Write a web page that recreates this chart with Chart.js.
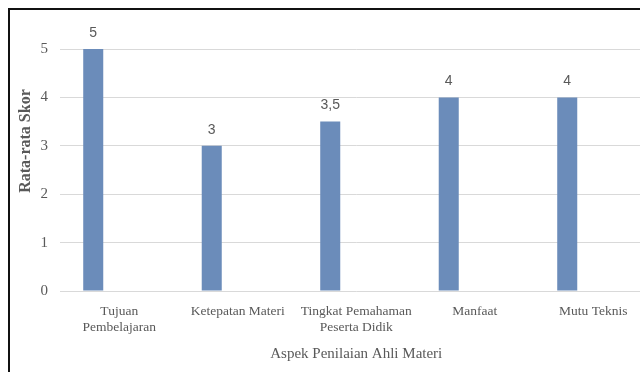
<!DOCTYPE html>
<html>
<head>
<meta charset="utf-8">
<script src="https://cdn.jsdelivr.net/npm/chart.js@4/dist/chart.umd.min.js"></script>
<style>
  html, body { margin: 0; padding: 0; background: #fff; overflow: hidden; }
  #wrap { position: absolute; left: 0; top: 0; width: 680px; height: 380px; }
  #frame { position: absolute; left: 8px; top: 8px; width: 700px; height: 400px; border: 2px solid #111; pointer-events: none; }
</style>
</head>
<body>
<div id="wrap"><canvas id="bar-chart"></canvas></div>
<div id="frame"></div>
<script>
// aspek penilaian (kategori) dan skor rata-rata
var aspek = [
  ['Tujuan', 'Pembelajaran'],
  'Ketepatan Materi',
  ['Tingkat Pemahaman', 'Peserta Didik'],
  'Manfaat',
  'Mutu Teknis'
];
var skor = [5, 3, 3.5, 4, 4];
var seriKosong = [null, null, null, null, null];
var yTicks = [0, 1, 2, 3, 4, 5];

var judulX = 'Aspek Penilaian Ahli Materi';
var judulY = 'Rata-rata Skor';

var abu = '#595959';
var serif = '"Liberation Serif", "Times New Roman", serif';

// tulis nilai di atas batang
var labelNilai = {
  id: 'labelNilai',
  afterDatasetsDraw: function(chart) {
    var ctx = chart.ctx;
    var meta = chart.getDatasetMeta(0);
    ctx.save();
    ctx.fillStyle = abu;
    ctx.font = '14px "Liberation Sans", Arial, sans-serif';
    ctx.textAlign = 'center';
    ctx.textBaseline = 'middle';
    meta.data.forEach(function(bar, i) {
      ctx.fillText(String(skor[i]).replace('.', ','), bar.x, bar.y - 16);
    });
    ctx.restore();
  }
};

// judul sumbu
var judulSumbu = {
  id: 'judulSumbu',
  afterDraw: function(chart) {
    var ctx = chart.ctx;
    var area = chart.chartArea;
    ctx.save();
    ctx.fillStyle = abu;
    ctx.textAlign = 'center';
    ctx.textBaseline = 'middle';
    ctx.font = '15px ' + serif;
    ctx.fillText(judulX, (area.left + area.right) / 2, 354);
    ctx.translate(26, 141);
    ctx.rotate(-Math.PI / 2);
    ctx.font = 'bold 16px ' + serif;
    ctx.fillText(judulY, 0, 0);
    ctx.restore();
  }
};

new Chart(document.getElementById('bar-chart'), {
  type: 'bar',
  data: {
    labels: aspek,
    datasets: [
      {
        label: 'Skor',
        data: skor,
        backgroundColor: '#6b8cba',
        categoryPercentage: 0.878,
        barPercentage: 0.385
      },
      {
        label: '',
        data: seriKosong,
        backgroundColor: '#6b8cba',
        categoryPercentage: 0.878,
        barPercentage: 0.385
      }
    ]
  },
  options: {
    responsive: true,
    maintainAspectRatio: false,
    animation: false,
    layout: { padding: { top: 49, right: 27.5, bottom: 0, left: 0 } },
    plugins: {
      legend: { display: false },
      tooltip: { enabled: false }
    },
    scales: {
      x: {
        grid: { display: false },
        border: { display: false },
        ticks: {
          color: abu,
          font: { family: serif, size: 13.5 },
          maxRotation: 0,
          autoSkip: false,
          padding: 4
        },
        afterFit: function(s) { s.height = 89; }
      },
      y: {
        min: 0,
        max: 5,
        afterBuildTicks: function(s) { s.ticks = yTicks.map(function(v) { return { value: v }; }); },
        grid: { color: '#d9d9d9', drawTicks: false },
        border: { display: false },
        ticks: {
          color: abu,
          font: { family: serif, size: 15 },
          padding: 12
        },
        afterFit: function(s) { s.width = 60; }
      }
    }
  },
  plugins: [labelNilai, judulSumbu]
});
</script>
</body>
</html>
